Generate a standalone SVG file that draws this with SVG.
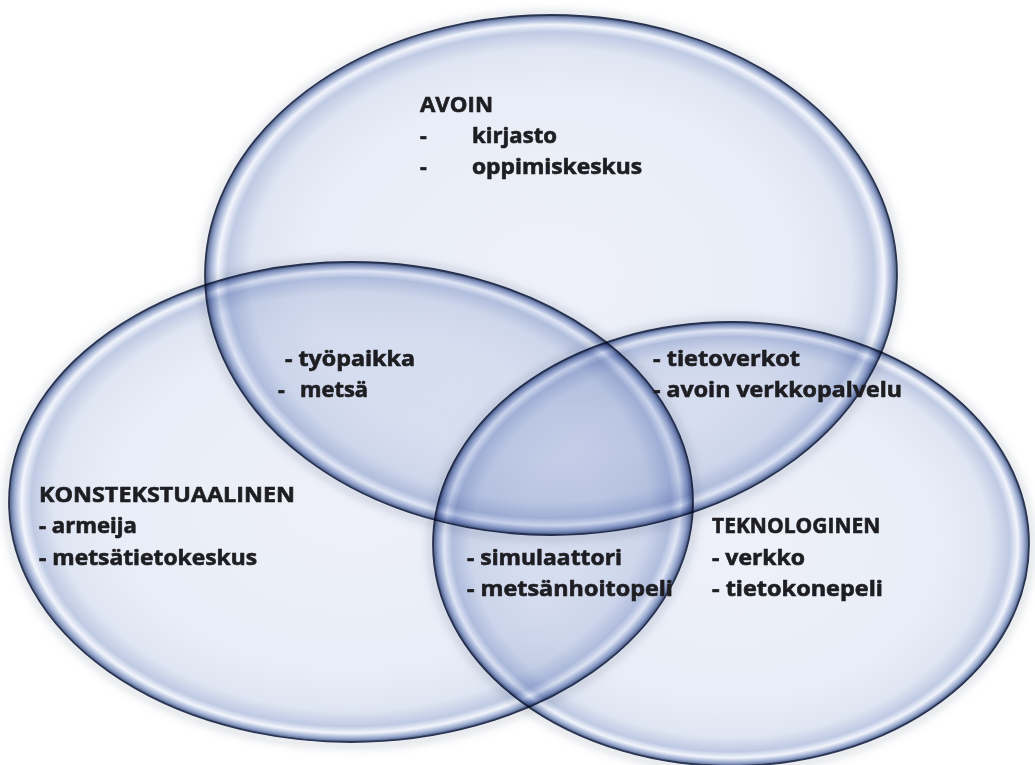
<svg xmlns="http://www.w3.org/2000/svg" width="1035" height="765" viewBox="0 0 1035 765">
  <defs>
    <radialGradient id="glass" cx="50%" cy="50%" r="50%">
      <stop offset="0%" stop-color="#eef1f9"/>
      <stop offset="70%" stop-color="#e9edf7"/>
      <stop offset="87%" stop-color="#dfe5f2"/>
      <stop offset="93.5%" stop-color="#bfcae4"/>
      <stop offset="96.3%" stop-color="#f2f5fc"/>
      <stop offset="98.6%" stop-color="#9aabd2"/>
      <stop offset="100%" stop-color="#55658c"/>
    </radialGradient>
    <filter id="blur" x="-10%" y="-10%" width="120%" height="120%">
      <feGaussianBlur stdDeviation="4"/>
    </filter>
  </defs>
  <style>
    .node { mix-blend-mode: multiply; }
    .fill { fill: url(#glass); }
    .rim { fill: none; stroke: #2c3858; stroke-width: 1.8; }
    .shadow { fill: none; stroke: #8d93a3; stroke-width: 6; stroke-opacity: 0.35; filter: url(#blur); }
    text { font-family: "Open Sans", "Liberation Sans", sans-serif; font-weight: bold; font-size: 21px; fill: #1d1d22; stroke: #1d1d22; stroke-width: 0.6; }
  </style>
  <rect width="1035" height="765" fill="#ffffff"/>

  <g id="shadows">
    <ellipse class="shadow" cx="551" cy="276" rx="348" ry="262"/>
    <ellipse class="shadow" cx="351" cy="503" rx="344" ry="242"/>
    <ellipse class="shadow" cx="731" cy="545" rx="300" ry="224"/>
  </g>

  <g id="avoin" class="node">
    <ellipse class="fill" cx="551" cy="275" rx="346" ry="260"/>
    <ellipse class="rim" cx="551" cy="275" rx="346" ry="260"/>
  </g>
  <g id="kontekstuaalinen" class="node">
    <ellipse class="fill" cx="351" cy="502" rx="342" ry="240"/>
    <ellipse class="rim" cx="351" cy="502" rx="342" ry="240"/>
  </g>
  <g id="teknologinen" class="node">
    <ellipse class="fill" cx="731" cy="544" rx="298" ry="222"/>
    <ellipse class="rim" cx="731" cy="544" rx="298" ry="222"/>
  </g>

  <g id="labels">
    <text x="420" y="112" textLength="73" lengthAdjust="spacingAndGlyphs">AVOIN</text>
    <text x="420" y="143">-</text>
    <text x="472" y="143" textLength="85" lengthAdjust="spacingAndGlyphs">kirjasto</text>
    <text x="420" y="174">-</text>
    <text x="472" y="174" textLength="170" lengthAdjust="spacingAndGlyphs">oppimiskeskus</text>

    <text x="285" y="366" textLength="130" lengthAdjust="spacingAndGlyphs">- työpaikka</text>
    <text x="278" y="397">-</text>
    <text x="300" y="397" textLength="68" lengthAdjust="spacingAndGlyphs">metsä</text>

    <text x="653" y="366" textLength="147" lengthAdjust="spacingAndGlyphs">- tietoverkot</text>
    <text x="653" y="397" textLength="249" lengthAdjust="spacingAndGlyphs">- avoin verkkopalvelu</text>

    <text x="39" y="502" textLength="256" lengthAdjust="spacingAndGlyphs">KONSTEKSTUAALINEN</text>
    <text x="39" y="533" textLength="98" lengthAdjust="spacingAndGlyphs">- armeija</text>
    <text x="39" y="565" textLength="218" lengthAdjust="spacingAndGlyphs">- metsätietokeskus</text>

    <text x="467" y="565" textLength="155" lengthAdjust="spacingAndGlyphs">- simulaattori</text>
    <text x="467" y="596" textLength="206" lengthAdjust="spacingAndGlyphs">- metsänhoitopeli</text>

    <text x="712" y="533">TEKNOLOGINEN</text>
    <text x="712" y="565" textLength="93" lengthAdjust="spacingAndGlyphs">- verkko</text>
    <text x="712" y="596" textLength="171" lengthAdjust="spacingAndGlyphs">- tietokonepeli</text>
  </g>
</svg>
